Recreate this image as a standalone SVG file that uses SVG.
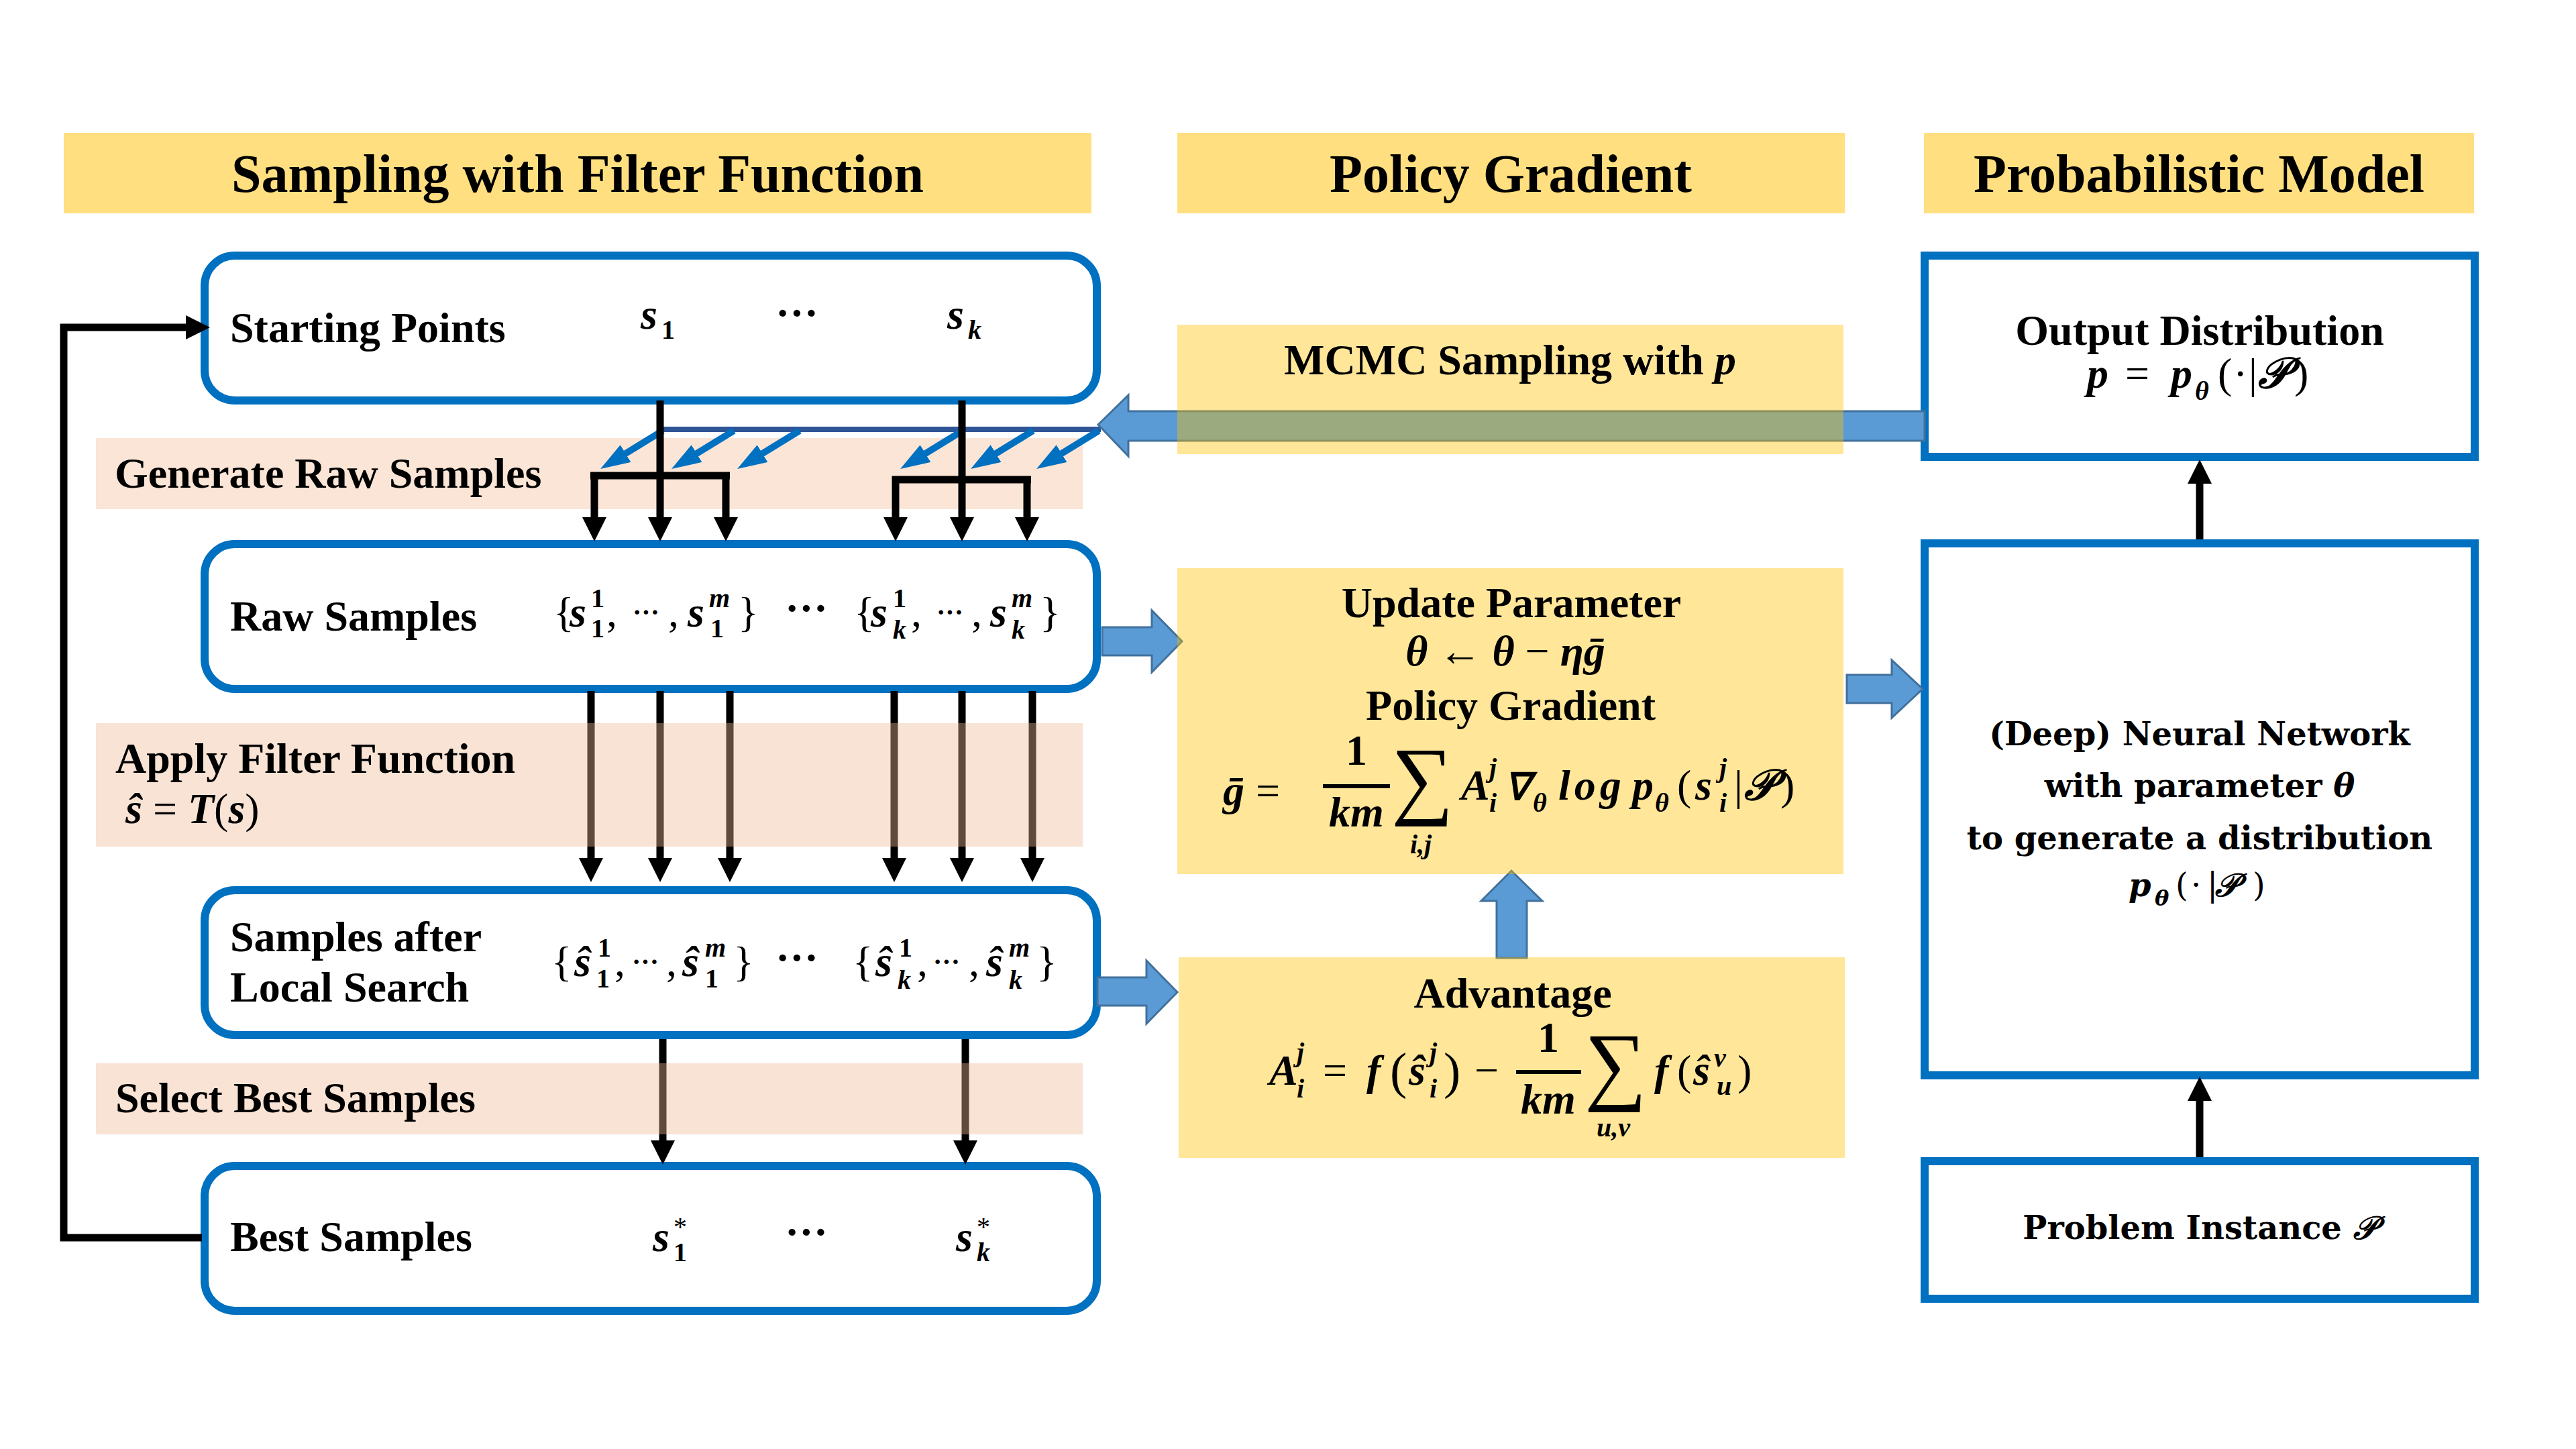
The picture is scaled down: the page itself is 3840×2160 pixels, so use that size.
<svg xmlns="http://www.w3.org/2000/svg" width="3840" height="2160" viewBox="0 0 3840 2160">
<defs>
<style>
text{font-family:"Liberation Serif","Times New Roman",serif;font-weight:700;font-size:64px;fill:#000}
.h{font-size:80px}
.i{font-style:italic}
.r{font-weight:400}
.sc{font-size:40px}
.sum{font-size:130px;font-weight:400}
.nn{font-family:"DejaVu Serif",serif;font-size:48px}
.nsc{font-family:"DejaVu Serif",serif;font-size:32px}
.hdr{fill:#FFC000;fill-opacity:0.5}
.yb{fill:#FFC000;fill-opacity:0.4}
.band{fill:#F0B995;fill-opacity:0.4}
.rbox{fill:#fff;stroke:#0070C0;stroke-width:12}
.blk{stroke:#000;stroke-width:11;fill:none}
.bl{stroke:#0070C0;stroke-width:10;fill:none}
.barr{fill:#5B9BD5;stroke:#41719C;stroke-width:3}
</style>
<marker id="ah" markerUnits="userSpaceOnUse" markerWidth="36" markerHeight="36" refX="16" refY="18" orient="auto" viewBox="0 0 36 36"><path d="M0,0 L36,18 L0,36 z" fill="#000"/></marker>
<marker id="ahb" markerUnits="userSpaceOnUse" markerWidth="44" markerHeight="30" refX="20" refY="15" orient="auto" viewBox="0 0 44 30"><path d="M0,0 L44,15 L0,30 z" fill="#0070C0"/></marker>
</defs>
<rect x="0" y="0" width="3840" height="2160" fill="#fff"/>

<g id="header-sampling"><rect class="hdr" x="95" y="198" width="1532" height="120"/><text class="h" x="861" y="286" text-anchor="middle">Sampling with Filter Function</text></g>
<g id="header-policy"><rect class="hdr" x="1755" y="198" width="995" height="120"/><text class="h" x="2252" y="286" text-anchor="middle">Policy Gradient</text></g>
<g id="header-model"><rect class="hdr" x="2868" y="198" width="820" height="120"/><text class="h" x="3278" y="286" text-anchor="middle">Probabilistic Model</text></g>

<g id="band-generate"><rect x="143" y="653" width="1471" height="106" fill="#FBE5D6"/><text x="171" y="727">Generate Raw Samples</text></g>

<g id="starting-points">
<rect class="rbox" x="305" y="381" width="1330" height="216" rx="45"/>
<text x="343" y="510">Starting Points</text>
<text x="955" y="490" class="i">s</text><text x="986" y="505" class="sc">1</text>
<text x="1156" y="488">···</text>
<text x="1412" y="490" class="i">s</text><text x="1443" y="505" class="i sc">k</text>
</g>

<g id="raw-samples">
<rect class="rbox" x="305" y="811" width="1330" height="216" rx="45"/>
<text x="343" y="940">Raw Samples</text>
<text x="825" y="934" class="r">{</text><text x="849" y="934" class="i">s</text><text x="881" y="905" class="sc">1</text><text x="881" y="950" class="sc">1</text><text x="904" y="934" class="r">,</text><text x="943" y="926" class="sc">···</text><text x="996" y="934" class="r">,</text><text x="1025" y="934" class="i">s</text><text x="1057" y="905" class="i sc">m</text><text x="1059" y="950" class="sc">1</text><text x="1100" y="934" class="r">}</text>
<text x="1170" y="928">···</text>
<text x="1273" y="934" class="r">{</text><text x="1298" y="934" class="i">s</text><text x="1331" y="905" class="sc">1</text><text x="1331" y="952" class="i sc">k</text><text x="1358" y="934" class="r">,</text><text x="1396" y="926" class="sc">···</text><text x="1448" y="934" class="r">,</text><text x="1476" y="934" class="i">s</text><text x="1508" y="905" class="i sc">m</text><text x="1508" y="952" class="i sc">k</text><text x="1550" y="934" class="r">}</text>
</g>

<g id="local-search">
<rect class="rbox" x="305" y="1327" width="1330" height="216" rx="45"/>
<text x="343" y="1418">Samples after</text>
<text x="343" y="1493">Local Search</text>
<text x="822" y="1455" class="r">{</text><text x="856" y="1455" class="i">ŝ</text><text x="891" y="1426" class="sc">1</text><text x="889" y="1472" class="sc">1</text><text x="916" y="1455" class="r">,</text><text x="942" y="1447" class="sc">···</text><text x="993" y="1455" class="r">,</text><text x="1017" y="1455" class="i">ŝ</text><text x="1051" y="1426" class="i sc">m</text><text x="1051" y="1472" class="sc">1</text><text x="1093" y="1455" class="r">}</text>
<text x="1156" y="1449">···</text>
<text x="1271" y="1455" class="r">{</text><text x="1305" y="1455" class="i">ŝ</text><text x="1340" y="1426" class="sc">1</text><text x="1338" y="1474" class="i sc">k</text><text x="1367" y="1455" class="r">,</text><text x="1391" y="1447" class="sc">···</text><text x="1444" y="1455" class="r">,</text><text x="1470" y="1455" class="i">ŝ</text><text x="1504" y="1426" class="i sc">m</text><text x="1504" y="1474" class="i sc">k</text><text x="1545" y="1455" class="r">}</text>
</g>

<g id="best-samples">
<rect class="rbox" x="305" y="1738" width="1330" height="216" rx="45"/>
<text x="343" y="1865">Best Samples</text>
<text x="973" y="1865" class="i">s</text><text x="1004" y="1842" class="sc r">*</text><text x="1004" y="1880" class="sc">1</text>
<text x="1170" y="1858">···</text>
<text x="1425" y="1865" class="i">s</text><text x="1456" y="1842" class="sc r">*</text><text x="1456" y="1880" class="i sc">k</text>
</g>

<g id="output-distribution">
<rect x="2869" y="381" width="820" height="300" fill="#fff" stroke="#0070C0" stroke-width="12"/>
<text x="3279" y="514" text-anchor="middle">Output Distribution</text>
<text x="3111" y="578" class="i">p</text><text x="3168" y="578" class="r">=</text><text x="3236" y="578" class="i">p</text><text x="3272" y="596" class="i sc">θ</text><text x="3306" y="578" class="r">(</text><text x="3329" y="578" class="r">·</text><text x="3352" y="578" class="r">|</text><text x="3366" y="578" class="i">𝒫</text><text x="3420" y="578" class="r">)</text>
</g>

<g id="neural-network">
<rect x="2869" y="810" width="820" height="793" fill="#fff" stroke="#0070C0" stroke-width="12"/>
<text class="nn" x="3279" y="1111" text-anchor="middle">(Deep) Neural Network</text>
<text class="nn" x="3279" y="1188" text-anchor="middle">with parameter <tspan class="i">θ</tspan></text>
<text class="nn" x="3279" y="1266" text-anchor="middle">to generate a distribution</text>
<text class="nn i" x="3173" y="1336">p</text><text class="nsc i" x="3212" y="1350">θ</text><text class="nn r" x="3243" y="1336">(</text><text class="nn r" x="3266" y="1336">·</text><text class="nn r" x="3290" y="1336">|</text><text class="nn i" x="3302" y="1336">𝒫</text><text class="nn r" x="3358" y="1336">)</text>
</g>

<g id="problem-instance">
<rect x="2869" y="1731" width="820" height="205" fill="#fff" stroke="#0070C0" stroke-width="12"/>
<text class="nn" x="3279" y="1847" text-anchor="middle">Problem Instance <tspan class="i">𝒫</tspan></text>
</g>

<g id="connectors">
<path class="blk" stroke-width="10" d="M301,1845 H95 V488 H293" marker-end="url(#ah)"/>
<line x1="984" y1="640" x2="1641" y2="640" stroke="#2F5597" stroke-width="8"/>
<line class="bl" x1="988" y1="642" x2="915.5" y2="686.5" marker-end="url(#ahb)"/>
<line class="bl" x1="1094" y1="642" x2="1021.5" y2="686.5" marker-end="url(#ahb)"/>
<line class="bl" x1="1192" y1="642" x2="1119.5" y2="686.5" marker-end="url(#ahb)"/>
<line class="bl" x1="1435" y1="642" x2="1362.5" y2="686.5" marker-end="url(#ahb)"/>
<line class="bl" x1="1540" y1="642" x2="1467.5" y2="686.5" marker-end="url(#ahb)"/>
<line class="bl" x1="1638" y1="642" x2="1565.5" y2="686.5" marker-end="url(#ahb)"/>
<line class="blk" x1="984" y1="597" x2="984" y2="787" marker-end="url(#ah)"/>
<line class="blk" stroke-width="12" x1="880" y1="709" x2="1088" y2="709"/>
<line class="blk" x1="886" y1="704" x2="886" y2="787" marker-end="url(#ah)"/>
<line class="blk" x1="1082" y1="704" x2="1082" y2="787" marker-end="url(#ah)"/>
<line class="blk" x1="1434" y1="597" x2="1434" y2="787" marker-end="url(#ah)"/>
<line class="blk" stroke-width="12" x1="1330" y1="715" x2="1537" y2="715"/>
<line class="blk" x1="1335" y1="710" x2="1335" y2="787" marker-end="url(#ah)"/>
<line class="blk" x1="1531" y1="710" x2="1531" y2="787" marker-end="url(#ah)"/>
<line class="blk" x1="881" y1="1030" x2="881" y2="1295" marker-end="url(#ah)"/>
<line class="blk" x1="984" y1="1030" x2="984" y2="1295" marker-end="url(#ah)"/>
<line class="blk" x1="1088" y1="1030" x2="1088" y2="1295" marker-end="url(#ah)"/>
<line class="blk" x1="1333" y1="1030" x2="1333" y2="1295" marker-end="url(#ah)"/>
<line class="blk" x1="1434" y1="1030" x2="1434" y2="1295" marker-end="url(#ah)"/>
<line class="blk" x1="1539" y1="1030" x2="1539" y2="1295" marker-end="url(#ah)"/>
<line class="blk" x1="988" y1="1549" x2="988" y2="1716" marker-end="url(#ah)"/>
<line class="blk" x1="1439" y1="1549" x2="1439" y2="1716" marker-end="url(#ah)"/>
<line class="blk" x1="3279" y1="804" x2="3279" y2="705" marker-end="url(#ah)"/>
<line class="blk" x1="3279" y1="1725" x2="3279" y2="1625" marker-end="url(#ah)"/>
<polygon class="barr" points="1637,633 1682,589 1682,613 2869,613 2869,657 1682,657 1682,680"/>
<polygon class="barr" points="1643,935 1717,935 1717,910 1762,956 1717,1002 1717,977 1643,977"/>
<polygon class="barr" points="1636,1457 1709,1457 1709,1432 1755,1479 1709,1526 1709,1499 1636,1499"/>
<polygon class="barr" points="2753,1006 2820,1006 2820,984 2866,1027 2820,1070 2820,1048 2753,1048"/>
<polygon class="barr" points="2231,1428 2231,1343 2208,1343 2253,1298 2299,1343 2276,1343 2276,1428"/>
</g>

<g id="band-filter"><rect class="band" x="143" y="1078" width="1471" height="184"/><text x="172" y="1152">Apply Filter Function</text><text x="187" y="1227"><tspan class="i">ŝ</tspan><tspan class="r"> = </tspan><tspan class="i">T</tspan><tspan class="r">(</tspan><tspan class="i">s</tspan><tspan class="r">)</tspan></text></g>
<g id="band-select"><rect class="band" x="143" y="1585" width="1471" height="106"/><text x="172" y="1658">Select Best Samples</text></g>

<g id="mcmc-sampling"><rect class="yb" x="1755" y="484" width="993" height="193"/><text x="2251" y="558" text-anchor="middle">MCMC Sampling with <tspan class="i">p</tspan></text></g>

<g id="update-parameter">
<rect class="yb" x="1755" y="847" width="993" height="456"/>
<text x="2253" y="920" text-anchor="middle">Update Parameter</text>
<text x="2244" y="992" text-anchor="middle"><tspan class="i">θ</tspan><tspan class="r"> ← </tspan><tspan class="i">θ</tspan><tspan class="r"> − </tspan><tspan class="i">ηḡ</tspan></text>
<text x="2252" y="1073" text-anchor="middle">Policy Gradient</text>
<text x="1823" y="1200" class="i">ḡ</text><text x="1872" y="1200" class="r">=</text>
<text x="2022" y="1140" text-anchor="middle">1</text><rect x="1972" y="1169" width="100" height="6"/><text x="2022" y="1232" text-anchor="middle" class="i">km</text>
<text x="2074" y="1204" class="sum">∑</text><text x="2118" y="1272" text-anchor="middle" class="i sc">i,j</text>
<text x="2178" y="1192" class="i">A</text><text x="2220" y="1158" class="i sc">j</text><text x="2220" y="1210" class="i sc">i</text>
<text x="2243" y="1192" class="i" style="font-size:56px">∇</text><text x="2285" y="1210" class="i sc">θ</text>
<text x="2323" y="1192" class="i" letter-spacing="6">log</text>
<text x="2433" y="1192" class="i">p</text><text x="2467" y="1210" class="i sc">θ</text>
<text x="2500" y="1192" class="r">(</text><text x="2527" y="1192" class="i">s</text><text x="2563" y="1158" class="i sc">j</text><text x="2563" y="1210" class="i sc">i</text>
<text x="2585" y="1192" class="r">|</text><text x="2600" y="1192" class="i">𝒫</text><text x="2654" y="1192" class="r">)</text>
</g>

<g id="advantage">
<rect class="yb" x="1757" y="1427" width="993" height="299"/>
<text x="2255" y="1502" text-anchor="middle">Advantage</text>
<text x="1892" y="1617" class="i">A</text><text x="1933" y="1582" class="i sc">j</text><text x="1933" y="1636" class="i sc">i</text>
<text x="1972" y="1617" class="r">=</text><text x="2037" y="1617" class="i">f</text>
<text x="2072" y="1622" class="r" style="font-size:76px">(</text><text x="2100" y="1617" class="i">ŝ</text><text x="2131" y="1582" class="i sc">j</text><text x="2131" y="1636" class="i sc">i</text><text x="2152" y="1622" class="r" style="font-size:76px">)</text>
<text x="2198" y="1617" class="r">−</text>
<text x="2308" y="1568" text-anchor="middle">1</text><rect x="2260" y="1595" width="97" height="6"/><text x="2308" y="1660" text-anchor="middle" class="i">km</text>
<text x="2362" y="1630" class="sum">∑</text><text x="2405" y="1694" text-anchor="middle" class="i sc">u,v</text>
<text x="2466" y="1617" class="i">f</text><text x="2500" y="1617" class="r">(</text><text x="2524" y="1617" class="i">ŝ</text><text x="2555" y="1590" class="i sc">v</text><text x="2559" y="1632" class="i sc">u</text><text x="2590" y="1617" class="r">)</text>
</g>
</svg>
